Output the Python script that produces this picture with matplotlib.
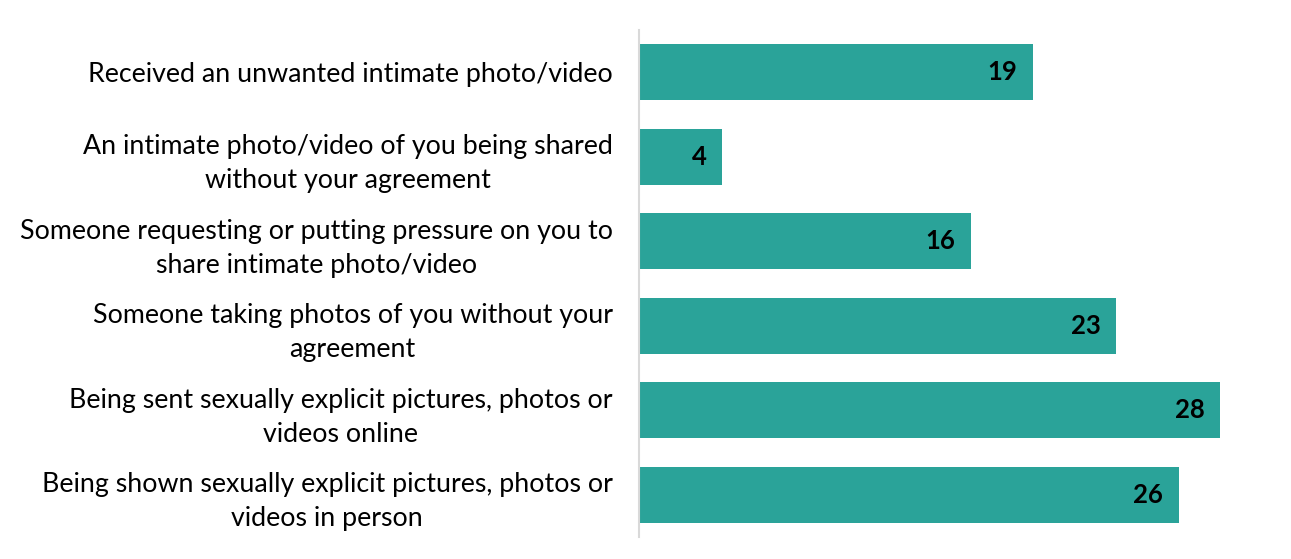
import matplotlib
matplotlib.use("Agg")
import matplotlib.pyplot as plt

categories = [
    "Received an unwanted intimate photo/video",
    "An intimate photo/video of you being shared\nwithout your agreement",
    "Someone requesting or putting pressure on you to\nshare intimate photo/video",
    "Someone taking photos of you without your\nagreement",
    "Being sent sexually explicit pictures, photos or\nvideos online",
    "Being shown sexually explicit pictures, photos or\nvideos in person",
]
values = [19, 4, 16, 23, 28, 26]

plt.rcParams['font.family'] = ['Lato', 'DejaVu Sans']

fig = plt.figure(figsize=(12.91, 5.59), dpi=100)
ax = fig.add_axes([639/1291, 22/559, 1 - 639/1291, 507/559])

ypos = list(range(len(categories)))
ax.barh(ypos, values, height=0.66, color="#2AA399")
ax.set_ylim(len(categories) - 0.5, -0.5)
ax.set_xlim(0, 652/20.75)

for y, v in zip(ypos, values):
    ax.text(v - 0.75, y, str(v), ha="right", va="center", fontsize=18.5,
            fontweight="bold", color="black")

ax.set_yticks(ypos)
ax.set_yticklabels(categories, fontsize=19.3, multialignment="center",
                   linespacing=1.45)
ax.tick_params(axis="y", length=0, pad=19)
ax.set_xticks([])
for s in ["top", "right", "bottom"]:
    ax.spines[s].set_visible(False)
ax.spines["left"].set_color("#D9D9D9")
ax.spines["left"].set_linewidth(1.5)

fig.savefig("out.png", dpi=100)
